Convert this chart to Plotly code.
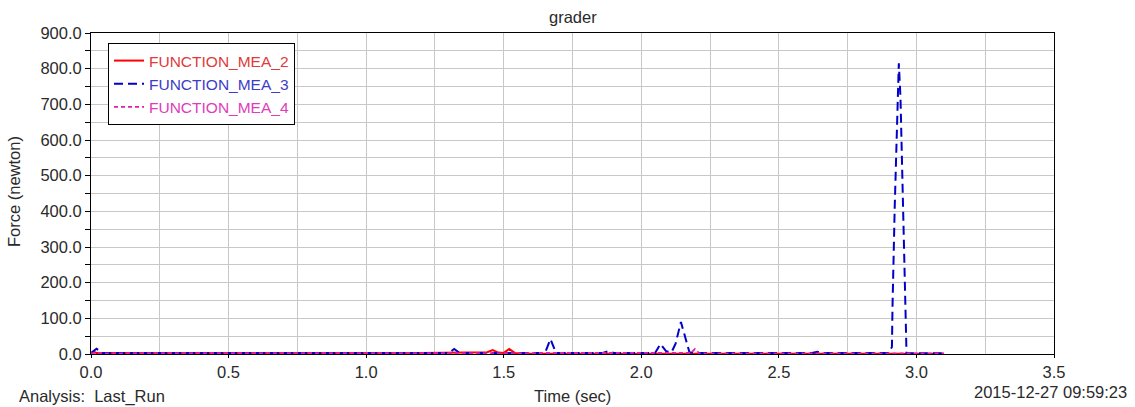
import plotly.graph_objects as go

# ---- data ----
t2 = [0.0, 0.01, 0.02, 0.03, 0.05, 0.1, 0.2, 0.3, 0.4, 0.5, 0.6, 0.7, 0.8, 0.9, 1.0, 1.1, 1.2, 1.3,
      1.4, 1.44, 1.46, 1.48, 1.5, 1.52, 1.54, 1.6, 1.7, 1.8, 1.9, 2.0, 2.1, 2.2, 2.3, 2.4, 2.5, 2.6,
      2.7, 2.8, 2.9, 3.0, 3.1]
v2 = [2, 6, 3, 2.5, 3, 3, 2.5, 3, 3, 3, 2.5, 3, 2.5, 3, 3, 3, 3, 3,
      3, 5, 11, 4, 3, 14, 3, 1, 1, 1, 1, 1, 1, 1, 1, 1, 1, 1,
      1, 1, 1, 1, 1]

t3 = [0.0, 0.01, 0.02, 0.04, 0.1, 0.2, 0.3, 0.4, 0.5, 0.6, 0.7, 0.8, 0.9, 1.0, 1.1, 1.2, 1.3, 1.32,
      1.34, 1.4, 1.5, 1.6, 1.65, 1.67, 1.69, 1.75, 1.8, 1.86, 1.88, 1.9, 2.0, 2.05, 2.07, 2.09, 2.11,
      2.125, 2.144, 2.16, 2.175, 2.2, 2.3, 2.4, 2.5, 2.6, 2.62, 2.64, 2.66, 2.7, 2.8, 2.9, 2.911,
      2.913, 2.921, 2.925, 2.931, 2.936, 2.942, 2.949, 2.960, 2.964, 2.98, 3.0, 3.1]
v3 = [3, 10, 15, 3, 3, 3, 3, 3, 3, 3, 3, 3, 3, 3, 3, 3, 3, 14,
      3, 3, 3, 3, 3, 42, 3, 3, 3, 3, 8, 3, 3, 3, 28, 8, 5,
      30, 90, 45, 5, 3, 3, 3, 3, 3, 3, 6, 3, 3, 3, 3, 20,
      130, 409, 538, 684, 815, 720, 460, 118, 2, 2, 2, 2]

t4 = [0.0, 0.02, 0.05, 0.1, 0.2, 0.3, 0.4, 0.5, 0.6, 0.7, 0.8, 0.9, 1.0, 1.1, 1.2, 1.3, 1.4, 1.5,
      1.6, 1.7, 1.8, 1.9, 2.0, 2.1, 2.18, 2.195, 2.21, 2.3, 2.4, 2.5, 2.6, 2.7, 2.8, 2.9, 3.0, 3.1]
v4 = [2, 4, 2, 2, 2, 2, 2, 2, 2, 2, 2, 2, 2, 2, 2, 2, 2, 2,
      2, 2, 2, 2, 2, 2, 3, 14, 2, 2, 2, 2, 2, 2, 2, 2, 2, 2]

names = ["FUNCTION_MEA_2", "FUNCTION_MEA_3", "FUNCTION_MEA_4"]
colors = ["#ff0000", "#0000c8", "#e020b0"]
text_colors = ["#e03a3a", "#3c3cc8", "#e03cb8"]
x_ticks = [0.0, 0.5, 1.0, 1.5, 2.0, 2.5, 3.0, 3.5]
y_ticks = [0, 100, 200, 300, 400, 500, 600, 700, 800, 900]

FONT = "Liberation Sans, Arial, sans-serif"
FS = 16.5

fig = go.Figure()
fig.add_trace(go.Scatter(x=t2, y=v2, mode="lines",
                         name=f'<span style="color:{text_colors[0]}">{names[0]}</span>',
                         line=dict(color=colors[0], width=2)))
fig.add_trace(go.Scatter(x=t3, y=v3, mode="lines",
                         name=f'<span style="color:{text_colors[1]}">{names[1]}</span>',
                         line=dict(color=colors[1], width=2, dash="9px,5px")))
fig.add_trace(go.Scatter(x=t4, y=v4, mode="lines",
                         name=f'<span style="color:{text_colors[2]}">{names[2]}</span>',
                         line=dict(color=colors[2], width=1.8, dash="4px,3px")))

L, R, T, B = 91, 81, 33, 53
W, H = 1135, 407
pw, ph = W - L - R, H - T - B

def px(xp):
    return (xp - L) / pw

def py(yp):
    return (H - B - yp) / ph

fig.update_layout(
    width=W, height=H,
    margin=dict(l=L, r=R, t=T, b=B),
    paper_bgcolor="white", plot_bgcolor="white",
    font=dict(family=FONT, size=FS, color="#2a2a2a"),
    showlegend=True,
    legend=dict(x=px(108), y=py(43), xanchor="left", yanchor="top",
                bgcolor="white", bordercolor="black", borderwidth=1,
                font=dict(family=FONT, size=15.5), tracegroupgap=0,
                itemwidth=30),
    xaxis=dict(range=[0, 3.5], tickvals=x_ticks, ticktext=[f"{v:.1f}" for v in x_ticks],
               showgrid=True, gridcolor="#c8c8c8", gridwidth=1,
               minor=dict(dtick=0.25, tick0=0, showgrid=True, gridcolor="#c8c8c8", gridwidth=1),
               ticks="outside", ticklen=3, tickcolor="black",
               showline=True, linecolor="black", linewidth=1, mirror=True,
               zeroline=False, tickfont=dict(size=FS)),
    yaxis=dict(range=[0, 900], tickvals=y_ticks, ticktext=[f"{v:.1f}" for v in y_ticks],
               showgrid=True, gridcolor="#c8c8c8", gridwidth=1,
               minor=dict(dtick=50, tick0=0, showgrid=True, gridcolor="#c8c8c8", gridwidth=1,
                          ticks="outside", ticklen=5, tickcolor="black"),
               ticks="outside", ticklen=5, tickcolor="black",
               showline=True, linecolor="black", linewidth=1, mirror=True,
               zeroline=False, tickfont=dict(size=FS)),
    annotations=[
        dict(text="grader", x=0.5, y=py(17), xref="paper", yref="paper",
             showarrow=False, font=dict(size=FS), xanchor="center", yanchor="middle"),
        dict(text="Time (sec)", x=0.5, y=py(396), xref="paper", yref="paper",
             showarrow=False, font=dict(size=FS), xanchor="center", yanchor="middle"),
        dict(text="Analysis:  Last_Run", x=px(17), y=py(397), xref="paper", yref="paper",
             showarrow=False, font=dict(size=FS), xanchor="left", yanchor="middle"),
        dict(text="2015-12-27 09:59:23", x=px(1129), y=py(392), xref="paper", yref="paper",
             showarrow=False, font=dict(size=FS), xanchor="right", yanchor="middle"),
        dict(text="Force (newton)", x=px(14), y=py(192), xref="paper", yref="paper",
             showarrow=False, font=dict(size=FS), textangle=-90,
             xanchor="center", yanchor="middle"),
    ],
)

fig.write_html("out.html")
